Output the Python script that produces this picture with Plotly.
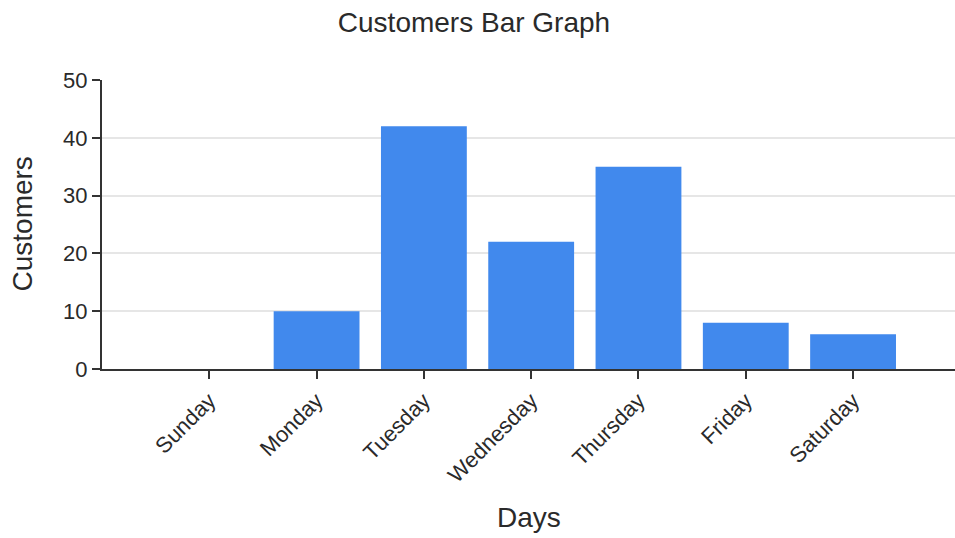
import plotly.graph_objects as go

days = ["Sunday", "Monday", "Tuesday", "Wednesday", "Thursday", "Friday", "Saturday"]
customers = [0, 10, 42, 22, 35, 8, 6]

FONT = "Arial, 'Liberation Sans', sans-serif"
TXT = "#2a2a2a"

fig = go.Figure(
    go.Bar(
        x=list(range(len(days))),
        y=customers,
        width=0.8,
        marker=dict(color="#4189ED", line=dict(width=0)),
        hoverinfo="x+y",
    )
)

fig.update_layout(
    width=955,
    height=538,
    margin=dict(l=102, r=0, t=80, b=169, autoexpand=False),
    paper_bgcolor="white",
    plot_bgcolor="white",
    showlegend=False,
    font=dict(family=FONT, color=TXT),
    title=dict(
        text="Customers Bar Graph",
        x=474 / 955,
        xref="container",
        xanchor="center",
        y=1 - 22 / 538,
        yref="container",
        yanchor="middle",
        font=dict(size=28, color=TXT, family=FONT),
    ),
    xaxis=dict(
        range=[-1, 6.95],
        tickmode="array",
        tickvals=list(range(len(days))),
        ticktext=days,
        tickangle=-45,
        ticks="outside",
        ticklen=8,
        tickwidth=2,
        tickcolor="#333333",
        showline=True,
        linecolor="#333333",
        linewidth=2,
        showgrid=False,
        zeroline=False,
        tickfont=dict(size=22, color=TXT, family=FONT),
        fixedrange=True,
    ),
    yaxis=dict(
        range=[0, 50],
        dtick=10,
        ticks="outside",
        ticklen=8,
        tickwidth=2,
        tickcolor="#333333",
        showline=True,
        linecolor="#333333",
        linewidth=2,
        showgrid=True,
        gridcolor="#e6e6e6",
        gridwidth=2,
        zeroline=False,
        tickfont=dict(size=22, color=TXT, family=FONT),
        fixedrange=True,
    ),
    annotations=[
        dict(
            text="Days",
            xref="paper",
            yref="paper",
            x=0.5,
            y=0,
            xanchor="center",
            yanchor="middle",
            yshift=-148,
            showarrow=False,
            font=dict(size=28, color=TXT, family=FONT),
        ),
        dict(
            text="Customers",
            xref="paper",
            yref="paper",
            x=0,
            y=0.5,
            xanchor="center",
            yanchor="middle",
            xshift=-80,
            textangle=-90,
            showarrow=False,
            font=dict(size=28, color=TXT, family=FONT),
        ),
    ],
)

fig.write_html("out.html", config={"displayModeBar": False})
